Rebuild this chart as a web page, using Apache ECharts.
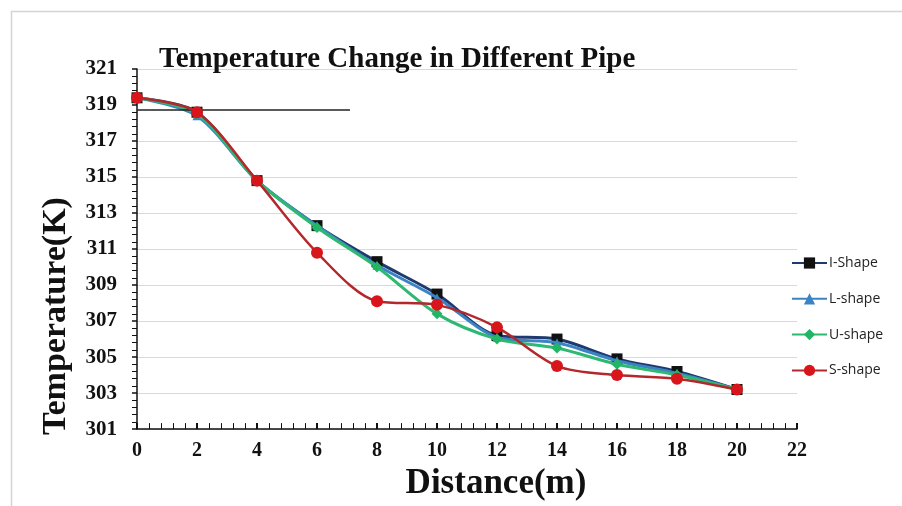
<!DOCTYPE html>
<html><head><meta charset="utf-8">
<script src="https://cdn.jsdelivr.net/npm/echarts@6/dist/echarts.min.js"></script>
<style>html,body{margin:0;padding:0;background:#fff}#c{width:902px;height:506px}</style>
</head><body><div id="c"></div>
<script>
const distance = [0, 2, 4, 6, 8, 10, 12, 14, 16, 18, 20];
const iShape = [319.4, 318.6, 314.8, 312.3, 310.3, 308.5, 306.2, 306.0, 304.9, 304.2, 303.2];
const lShape = [319.4, 318.4, 314.8, 312.3, 310.1, 308.3, 306.1, 305.8, 304.8, 304.1, 303.2];
const uShape = [319.4, 318.5, 314.8, 312.2, 310.0, 307.4, 306.0, 305.5, 304.6, 304.0, 303.2];
const sShape = [319.4, 318.6, 314.8, 310.8, 308.1, 307.9, 306.65, 304.5, 304.0, 303.8, 303.2];
const seriesNames = ['I-Shape', 'L-shape', 'U-shape', 'S-shape'];
const refLineX = [0, 7.1];
const refLineY = 318.75;

const pair = arr => distance.map((d, i) => [d, arr[i]]);
const serif = '"Liberation Serif", "Times New Roman", serif';
const grid = ['#d9d9d9','#d9d9d9','#d9d9d9','#d9d9d9','#d9d9d9','#d9d9d9','#d9d9d9','#d9d9d9','#d9d9d9','rgba(0,0,0,0)','#d9d9d9'];

const chart = echarts.init(document.getElementById('c'), null, {renderer: 'canvas'});
chart.setOption({
  backgroundColor: '#fff',
  animation: false,
  graphic: [{type: 'rect', left: 9, top: 9, shape: {width: 1000, height: 600}, style: {fill: 'none', stroke: '#d4d4d4', lineWidth: 1.5}, silent: true}],
  title: {text: 'Temperature Change in Different Pipe', left: 154, top: 40,
    textStyle: {fontFamily: serif, fontWeight: 'bold', fontSize: 29, color: '#111'}},
  legend: {orient: 'vertical', left: 786, top: 251, itemWidth: 35, itemHeight: 14, itemGap: 21.8,
    data: seriesNames,
    textStyle: {fontFamily: '"Open Sans", "DejaVu Sans", sans-serif', fontSize: 14, color: '#222', padding: [0,0,0,-3]}},
  grid: {left: 137, right: 105, top: 69, bottom: 68},
  xAxis: {type: 'value', min: 0, max: 22, interval: 2,
    name: 'Distance(m)', nameLocation: 'middle', nameGap: 34,
    nameTextStyle: {fontFamily: serif, fontWeight: 'bold', fontSize: 35, color: '#111', padding: [0,0,0,58]},
    axisLine: {lineStyle: {color: '#111', width: 1.5}},
    axisTick: {inside: true, length: 6, lineStyle: {color: '#111', width: 2}},
    minorTick: {show: true, splitNumber: 5, length: 6, lineStyle: {color: '#111', width: 1}},
    axisLabel: {margin: 12, fontFamily: serif, fontWeight: 'bold', fontSize: 20, color: '#111'},
    splitLine: {show: false}},
  yAxis: {type: 'value', min: 301, max: 321, interval: 2,
    name: 'Temperature(K)', nameLocation: 'middle', nameGap: 64,
    nameTextStyle: {fontFamily: serif, fontWeight: 'bold', fontSize: 34, color: '#111', padding: [0,134,0,0]},
    axisLine: {show: true, lineStyle: {color: '#111', width: 1.5}},
    axisTick: {show: true, length: 5, lineStyle: {color: '#111', width: 1.5}},
    minorTick: {show: true, splitNumber: 5, length: 5, lineStyle: {color: '#111', width: 1}},
    axisLabel: {margin: 20, fontFamily: serif, fontWeight: 'bold', fontSize: 21, color: '#111', padding: [0,0,15,0]},
    splitLine: {show: true, lineStyle: {color: grid, width: 1.2}}},
  series: [
    {name: seriesNames[0], type: 'line', smooth: 0.3, data: pair(iShape), symbol: 'rect', symbolSize: 11,
      lineStyle: {color: '#1f3a6e', width: 3}, itemStyle: {color: '#111'}, z: 2,
      markLine: {silent: true, symbol: 'none', label: {show: false}, lineStyle: {color: '#222', width: 1.5, type: 'solid'},
        data: [[{coord: [refLineX[0], refLineY]}, {coord: [refLineX[1], refLineY]}]]}},
    {name: seriesNames[1], type: 'line', smooth: 0.3, data: pair(lShape), symbol: 'triangle', symbolSize: 9,
      lineStyle: {color: '#3b84c4', width: 3}, itemStyle: {color: '#3b84c4'}, z: 3},
    {name: seriesNames[2], type: 'line', smooth: 0.3, data: pair(uShape), symbol: 'diamond', symbolSize: 11,
      lineStyle: {color: '#2fb872', width: 3}, itemStyle: {color: '#22b566'}, z: 4},
    {name: seriesNames[3], type: 'line', smooth: 0.3, data: pair(sShape), symbol: 'circle', symbolSize: 12,
      lineStyle: {color: '#b3282c', width: 2.5}, itemStyle: {color: '#d8151b'}, z: 5}
  ]
});
</script></body></html>
